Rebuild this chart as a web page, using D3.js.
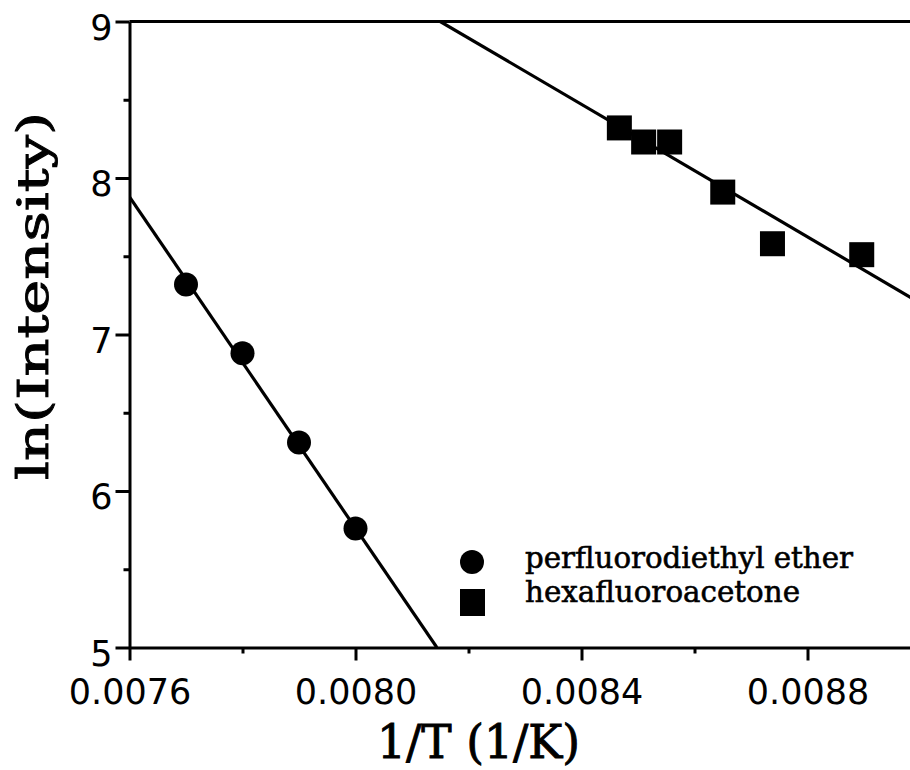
<!DOCTYPE html>
<html>
<head>
<meta charset="utf-8">
<script src="https://cdn.jsdelivr.net/npm/d3@7"></script>
<style>
  html, body { margin: 0; padding: 0; background: #fff; }
  svg { display: block; }
</style>
</head>
<body>
<svg id="chart" width="910" height="770"></svg>
<script>
// ---- data ----
const etherX = [0.0077, 0.0078, 0.0079, 0.0080];
const etherY = [7.32, 6.88, 6.31, 5.76];
const hfaX = [0.008467, 0.00851, 0.008556, 0.00865, 0.008738, 0.008896];
const hfaY = [8.32, 8.23, 8.23, 7.91, 7.58, 7.51];
const etherFitX = [0.0076, 0.008144];
const etherFitY = [7.88, 5.0];
const hfaFitX = [0.00815, 0.0090];
const hfaFitY = [9.0, 7.20];
const xMajorTicks = [0.0076, 0.0080, 0.0084, 0.0088];
const xMinorTicks = [0.0078, 0.0082, 0.0086, 0.0090];
const xTickLabels = ["0.0076", "0.0080", "0.0084", "0.0088"];
const yMajorTicks = [5, 6, 7, 8, 9];
const yMinorTicks = [5.5, 6.5, 7.5, 8.5];
const yTickLabels = ["5", "6", "7", "8", "9"];
const legendLabels = ["perfluorodiethyl ether", "hexafluoroacetone"];
const xTitle = "1/T (1/K)";
const yTitle = "ln(Intensity)";

const svg = d3.select("#chart");
const x = d3.scaleLinear().domain([0.0076, 0.0090]).range([129.5, 920.5]);
const y = d3.scaleLinear().domain([5, 9]).range([647.5, 21.5]);

const tickFont = "'DejaVu Sans', sans-serif";
const serif = "'DejaVu Serif', serif";

svg.append("defs").append("clipPath").attr("id", "plotclip")
  .append("rect").attr("x", x(0.0076)).attr("y", y(9)).attr("width", 910 - x(0.0076)).attr("height", y(5) - y(9));

// top frame line
svg.append("line")
  .attr("x1", x(0.0076)).attr("x2", x(0.0090))
  .attr("y1", y(9)).attr("y2", y(9))
  .attr("stroke", "#000").attr("stroke-width", 3);

// x axis major
const gx = svg.append("g").attr("transform", `translate(0,${y(5)})`)
  .call(d3.axisBottom(x).tickValues(xMajorTicks).tickSize(13).tickSizeOuter(0)
    .tickFormat((d, i) => xTickLabels[i]));
gx.select(".domain").attr("stroke-width", 3);
gx.selectAll(".tick line").attr("stroke-width", 3);
gx.selectAll(".tick text").attr("y", 56).attr("dy", 0)
  .style("font-family", tickFont).style("font-size", "35px").attr("fill", "#000");

// x axis minor
const gxm = svg.append("g").attr("transform", `translate(0,${y(5)})`)
  .call(d3.axisBottom(x).tickValues(xMinorTicks).tickSize(6).tickFormat(""));
gxm.select(".domain").remove();
gxm.selectAll(".tick line").attr("stroke-width", 3);

// y axis major
const gy = svg.append("g").attr("transform", `translate(${x(0.0076)},0)`)
  .call(d3.axisLeft(y).tickValues(yMajorTicks).tickSize(14).tickSizeOuter(0)
    .tickFormat((d, i) => yTickLabels[i]));
gy.select(".domain").attr("stroke-width", 3);
gy.selectAll(".tick line").attr("stroke-width", 3);
gy.selectAll(".tick text").attr("x", -17).attr("dy", "0.5em")
  .style("font-family", tickFont).style("font-size", "35px").attr("fill", "#000");

// y axis minor
const gym = svg.append("g").attr("transform", `translate(${x(0.0076)},0)`)
  .call(d3.axisLeft(y).tickValues(yMinorTicks).tickSize(6).tickFormat(""));
gym.select(".domain").remove();
gym.selectAll(".tick line").attr("stroke-width", 3);

// fit lines
const line = d3.line().x(d => x(d[0])).y(d => y(d[1]));
const plot = svg.append("g").attr("clip-path", "url(#plotclip)");
plot.append("path").datum(etherFitX.map((v, i) => [v, etherFitY[i]]))
  .attr("d", line).attr("fill", "none").attr("stroke", "#000").attr("stroke-width", 3.2);
plot.append("path").datum(hfaFitX.map((v, i) => [v, hfaFitY[i]]))
  .attr("d", line).attr("fill", "none").attr("stroke", "#000").attr("stroke-width", 3.2);

// points
svg.append("g").selectAll("circle").data(etherX.map((v, i) => [v, etherY[i]]))
  .join("circle").attr("cx", d => x(d[0])).attr("cy", d => y(d[1])).attr("r", 12).attr("fill", "#000");
const sq = 25;
svg.append("g").selectAll("rect").data(hfaX.map((v, i) => [v, hfaY[i]]))
  .join("rect").attr("x", d => x(d[0]) - sq / 2).attr("y", d => y(d[1]) - sq / 2)
  .attr("width", sq).attr("height", sq).attr("fill", "#000");

// legend
const lg = svg.append("g");
lg.append("circle").attr("cx", 472).attr("cy", 562).attr("r", 12).attr("fill", "#000");
lg.append("rect").attr("x", 460).attr("y", 589).attr("width", 25).attr("height", 27).attr("fill", "#000");
lg.append("text").attr("x", 525).attr("y", 568).text(legendLabels[0])
  .attr("textLength", 328).attr("lengthAdjust", "spacingAndGlyphs")
  .style("font-family", serif).style("font-size", "30px")
  .attr("fill", "#000").attr("stroke", "#000").attr("stroke-width", 0.6);
lg.append("text").attr("x", 525).attr("y", 602).text(legendLabels[1])
  .attr("textLength", 275).attr("lengthAdjust", "spacingAndGlyphs")
  .style("font-family", serif).style("font-size", "30px")
  .attr("fill", "#000").attr("stroke", "#000").attr("stroke-width", 0.6);

// axis titles
svg.append("text").attr("x", 377).attr("y", 758).text(xTitle)
  .attr("textLength", 203).attr("lengthAdjust", "spacingAndGlyphs")
  .style("font-family", serif).style("font-size", "46px")
  .attr("fill", "#000").attr("stroke", "#000").attr("stroke-width", 0.9);
svg.append("text").attr("transform", "translate(48,480) rotate(-90)").text(yTitle)
  .attr("textLength", 368).attr("lengthAdjust", "spacingAndGlyphs")
  .style("font-family", serif).style("font-size", "43px")
  .attr("fill", "#000").attr("stroke", "#000").attr("stroke-width", 0.9);
</script>
</body>
</html>
